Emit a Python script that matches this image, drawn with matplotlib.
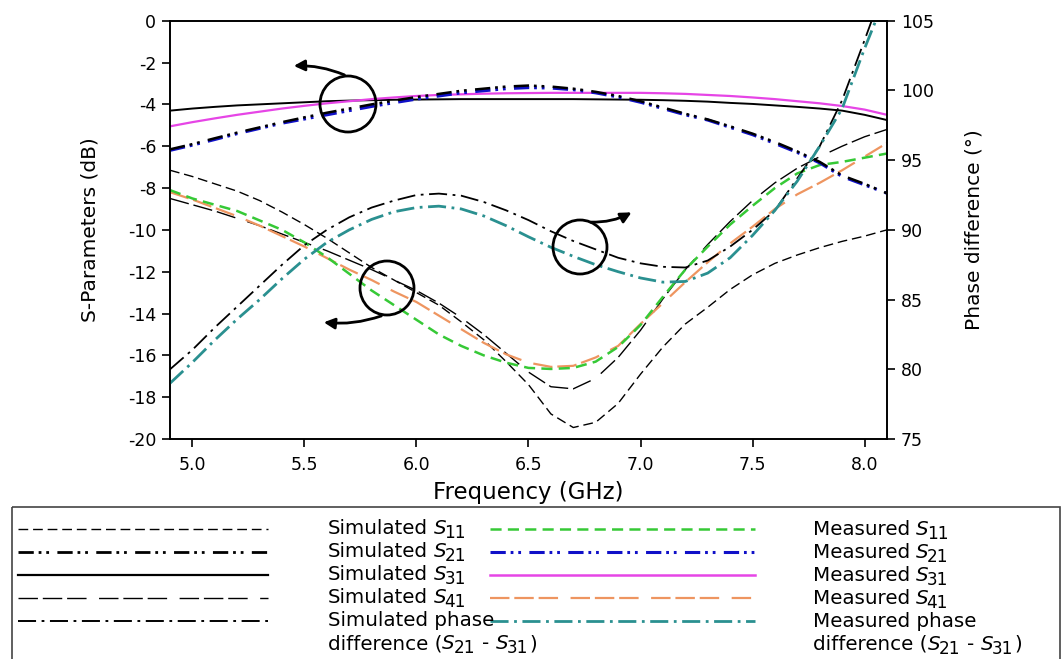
import matplotlib
matplotlib.use('Agg')
import matplotlib.pyplot as plt
from matplotlib.patches import Circle, FancyArrowPatch, Rectangle

plt.rcParams['font.family'] = ['DejaVu Sans']
plt.rcParams['axes.unicode_minus'] = False
plt.rcParams['lines.scale_dashes'] = False

# Frequency grid (GHz)
freq = [4.9, 5.0, 5.1, 5.2, 5.3, 5.4, 5.5, 5.6, 5.7, 5.8, 5.9, 6.0, 6.1, 6.2, 6.3, 6.4,
        6.5, 6.6, 6.7, 6.8, 6.9, 7.0, 7.1, 7.2, 7.3, 7.4, 7.5, 7.6, 7.7, 7.8, 7.9, 8.0, 8.1]

# S-parameters (dB)
sim_s11 = [-7.15, -7.45, -7.8, -8.15, -8.6, -9.15, -9.75, -10.4, -11.1, -11.8, -12.4,
           -13.0, -13.6, -14.4, -15.25, -16.3, -17.4, -18.8, -19.45, -19.2, -18.3, -16.9,
           -15.6, -14.5, -13.7, -12.85, -12.15, -11.6, -11.2, -10.85, -10.55, -10.3, -10.0]
sim_s21 = [-6.15, -5.9, -5.62, -5.35, -5.1, -4.85, -4.62, -4.4, -4.2, -4.0, -3.82,
           -3.65, -3.5, -3.35, -3.25, -3.15, -3.1, -3.15, -3.25, -3.4, -3.6, -3.85,
           -4.15, -4.45, -4.72, -5.05, -5.4, -5.8, -6.25, -6.75, -7.4, -7.8, -8.25]
sim_s31 = [-4.3, -4.2, -4.12, -4.05, -4.0, -3.95, -3.9, -3.85, -3.82, -3.8, -3.78,
           -3.77, -3.76, -3.75, -3.75, -3.75, -3.75, -3.75, -3.75, -3.76, -3.77, -3.78,
           -3.8, -3.83, -3.87, -3.93, -3.98, -4.05, -4.12, -4.2, -4.3, -4.5, -4.75]
sim_s41 = [-8.5, -8.8, -9.1, -9.45, -9.8, -10.2, -10.6, -11.0, -11.45, -11.9, -12.4,
           -12.9, -13.5, -14.2, -15.0, -15.9, -16.8, -17.5, -17.6, -17.1, -16.1, -14.8,
           -13.3, -11.9, -10.7, -9.6, -8.6, -7.75, -7.05, -6.5, -6.0, -5.55, -5.2]
meas_s11 = [-8.1, -8.5, -8.8, -9.1, -9.55, -10.0, -10.6, -11.3, -12.1, -12.9, -13.6,
            -14.3, -15.0, -15.55, -16.0, -16.35, -16.6, -16.65, -16.6, -16.3, -15.6, -14.55,
            -13.2, -11.9, -10.8, -9.75, -8.85, -8.0, -7.3, -6.9, -6.75, -6.55, -6.35]
meas_s21 = [-6.2, -5.95, -5.68, -5.4, -5.15, -4.9, -4.7, -4.5, -4.3, -4.1, -3.92,
            -3.75, -3.6, -3.45, -3.35, -3.25, -3.2, -3.22, -3.3, -3.45, -3.65, -3.9,
            -4.2, -4.5, -4.75, -5.1, -5.45, -5.87, -6.3, -6.8, -7.45, -7.85, -8.25]
meas_s31 = [-5.05, -4.85, -4.67, -4.5, -4.35, -4.2, -4.07, -3.95, -3.85, -3.75, -3.67,
            -3.6, -3.55, -3.52, -3.49, -3.47, -3.46, -3.45, -3.45, -3.45, -3.45, -3.45,
            -3.47, -3.5, -3.55, -3.6, -3.67, -3.75, -3.85, -3.95, -4.08, -4.25, -4.5]
meas_s41 = [-8.2, -8.55, -8.95, -9.35, -9.8, -10.3, -10.8, -11.35, -11.9, -12.4, -12.95,
            -13.45, -14.1, -14.75, -15.4, -15.95, -16.35, -16.55, -16.5, -16.1, -15.55, -14.5,
            -13.5, -12.5, -11.55, -10.65, -9.85, -9.0, -8.3, -7.75, -7.15, -6.5, -5.85]

# Phase difference (deg)
sim_phase = [80.0, 81.4, 83.0, 84.5, 86.0, 87.5, 88.9, 90.0, 90.9, 91.6, 92.1,
             92.5, 92.6, 92.45, 92.0, 91.4, 90.7, 89.9, 89.2, 88.6, 88.0, 87.6,
             87.35, 87.3, 87.8, 88.8, 90.0, 91.4, 93.7, 96.0, 99.3, 103.6, 108.0]
meas_phase = [79.0, 80.5, 82.1, 83.6, 85.0, 86.5, 87.9, 89.1, 90.0, 90.75, 91.3,
              91.6, 91.7, 91.5, 91.0, 90.3, 89.5, 88.75, 88.1, 87.5, 87.0, 86.55,
              86.25, 86.3, 86.9, 88.0, 89.6, 91.4, 93.5, 96.0, 98.7, 103.0, 107.0]

x_ticks = [5.0, 5.5, 6.0, 6.5, 7.0, 7.5, 8.0]
x_ticklabels = ['5.0', '5.5', '6.0', '6.5', '7.0', '7.5', '8.0']
left_ticks = list(range(-20, 1, 2))
right_ticks = list(range(75, 106, 5))

GREEN = '#36c936'
BLUE = '#1010c8'
MAGENTA = '#e645e6'
ORANGE = '#ee9560'
TEAL = '#2a9090'

ls_short = (0, (7, 3.5))
ls_ddot = (0, (11, 3.5, 2, 3.5, 2, 6))
ls_group = (0, (14, 3.5, 14, 3.5, 14, 9))
ls_dashdot = (0, (13, 4, 2, 4))
ls_green = (0, (8, 4.5))

fig = plt.figure(figsize=(10.64, 6.59), dpi=100)
ax = fig.add_axes([0.1598, 0.3338, 0.6738, 0.6348])
ax2 = ax.twinx()

ax.plot(freq, sim_s11, color='black', lw=1.0, linestyle=ls_short)
ax.plot(freq, sim_s41, color='black', lw=1.0, linestyle=ls_group)
ax.plot(freq, meas_s41, color=ORANGE, lw=1.6, linestyle=ls_group)
ax.plot(freq, meas_s11, color=GREEN, lw=1.8, linestyle=ls_green)
ax.plot(freq, sim_s31, color='black', lw=1.4)
ax.plot(freq, meas_s31, color=MAGENTA, lw=1.6)
ax.plot(freq, meas_s21, color=BLUE, lw=2.2, linestyle=ls_ddot)
ax.plot(freq, sim_s21, color='black', lw=1.8, linestyle=ls_ddot)

ax2.plot(freq, sim_phase, color='black', lw=1.3, linestyle=ls_dashdot)
ax2.plot(freq, meas_phase, color=TEAL, lw=2.0, linestyle=ls_dashdot)

ax.set_xlim(4.9, 8.1)
ax.set_ylim(-20, 0)
ax2.set_ylim(75, 105)
ax.set_xticks(x_ticks)
ax.set_xticklabels(x_ticklabels)
ax.set_yticks(left_ticks)
ax2.set_yticks(right_ticks)

for a in (ax, ax2):
    for s in a.spines.values():
        s.set_linewidth(1.2)
    a.tick_params(direction='out', length=6, width=1.2, labelsize=12.5, pad=4)
ax.tick_params(axis='x', pad=6)

ax.set_xlabel('Frequency (GHz)', fontsize=16.5, labelpad=5)
ax.set_ylabel('S-Parameters (dB)', fontsize=14.5, labelpad=20)
ax2.set_ylabel('Phase difference (\u00b0)', fontsize=14.5, labelpad=22)

# overlay in pixel coordinates for annotations and the boxed legend
ov = fig.add_axes([0, 0, 1, 1])
ov.set_xlim(0, 1064)
ov.set_ylim(659, 0)
ov.axis('off')
ov.patch.set_alpha(0)

for cx, cy, r in [(348, 104, 28), (387, 288, 27), (580, 247, 27)]:
    ov.add_patch(Circle((cx, cy), r, fill=False, lw=2, color='black'))
arrows = [((347, 76), (291, 66), 0.12), ((384, 315), (321, 322), -0.12), ((588, 222), (634, 211), 0.15)]
for start, end, rad in arrows:
    ov.add_patch(FancyArrowPatch(start, end, connectionstyle=f'arc3,rad={rad}',
                                 arrowstyle='-|>', mutation_scale=16, lw=2, color='black'))

ov.add_patch(Rectangle((12, 507), 1048, 170, fill=False, lw=1.2, edgecolor='#444444'))

rows = [529, 552, 575, 598, 621]
sim_styles = [('black', 1.0, ls_short), ('black', 2.0, ls_ddot), ('black', 1.6, '-'),
              ('black', 1.0, ls_group), ('black', 1.4, ls_dashdot)]
meas_styles = [(GREEN, 1.8, ls_green), (BLUE, 2.2, ls_ddot), (MAGENTA, 1.8, '-'),
               (ORANGE, 1.6, ls_group), (TEAL, 2.0, ls_dashdot)]

for y, (c, lw, ls) in zip(rows, sim_styles):
    ov.plot([18, 268], [y, y], color=c, lw=lw, linestyle=ls)
for y, (c, lw, ls) in zip(rows, meas_styles):
    ov.plot([490, 755], [y, y], color=c, lw=lw, linestyle=ls)

FS = 14.3


def rich_text(x, y, parts):
    base = ov.text(x, y, parts[0][0], fontsize=FS, va='baseline')
    prev = base
    for txt, kind, gap in parts[1:]:
        if kind == 'sub':
            prev = ov.annotate(txt, xy=(1, 0), xycoords=(prev, base), xytext=(gap, -3),
                               textcoords='offset points', fontsize=FS * 0.85, va='bottom')
        else:
            prev = ov.annotate(txt, xy=(1, 0), xycoords=(prev, base), xytext=(gap, 0),
                               textcoords='offset points', fontsize=FS, va='bottom',
                               style='italic' if kind == 'i' else 'normal')


def s_label(word, idx):
    return [(word, 'n', 0), ('S', 'i', 4), (idx, 'sub', -1.2)]


diff_parts = [('difference (', 'n', 0), ('S', 'i', 0), ('21', 'sub', -1.2), ('-', 'n', 5),
              ('S', 'i', 5), ('31', 'sub', -1.2), (')', 'n', 0.5)]

for col_x, word, dy in [(328, 'Simulated', 0), (813, 'Measured', 1)]:
    for y, idx in zip(rows[:4], ['11', '21', '31', '41']):
        rich_text(col_x, y + 5 + dy, s_label(word, idx))
    rich_text(col_x, rows[4] + 5 + dy, [(word + ' phase', 'n', 0)])
    rich_text(col_x, rows[4] + 28 + dy, diff_parts)

fig.savefig('out.png', dpi=100)
